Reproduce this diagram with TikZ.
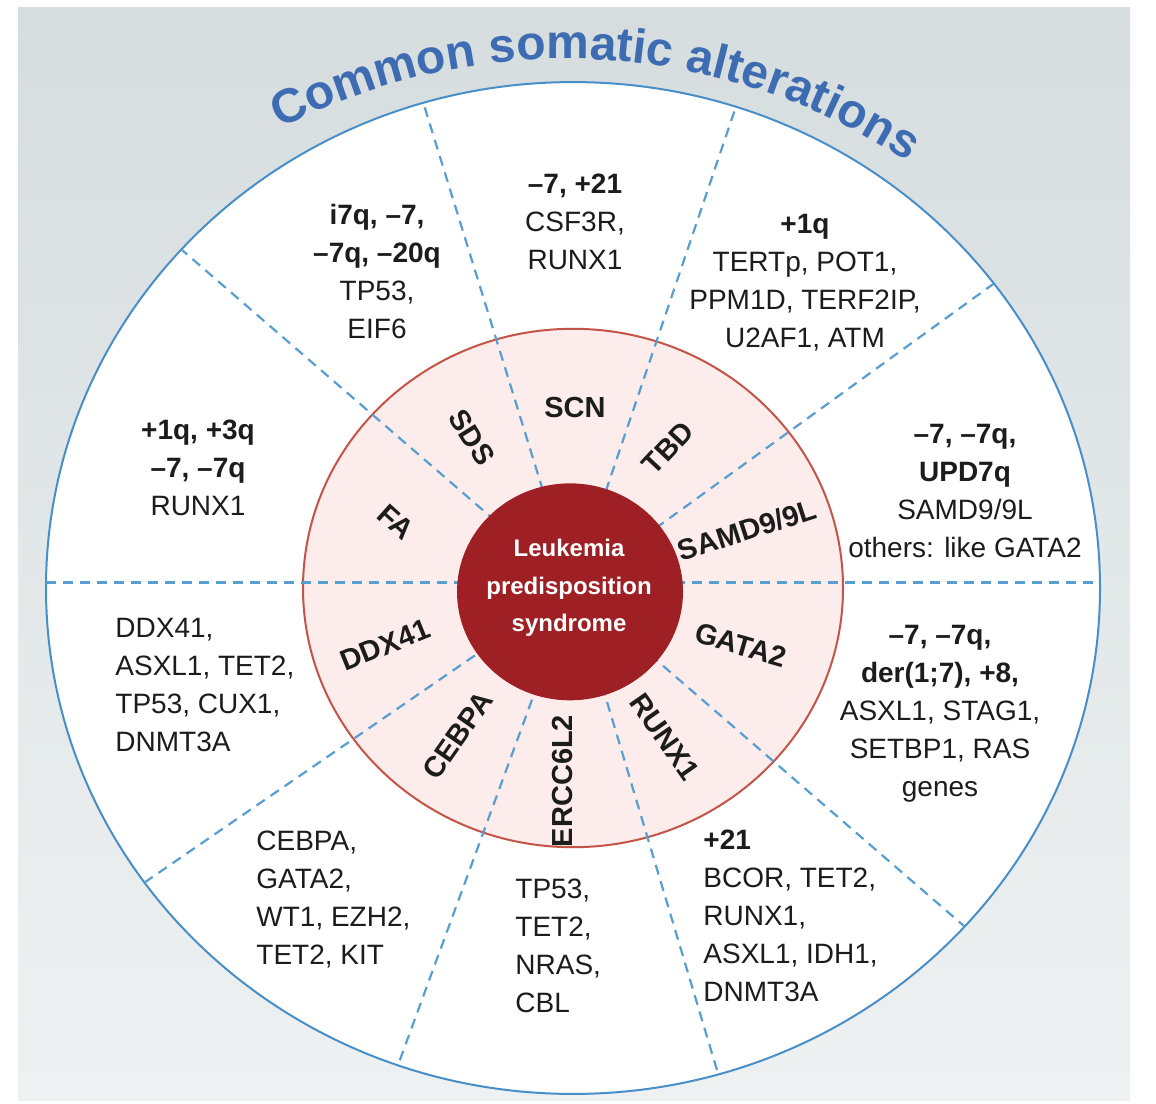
\documentclass[tikz,border=0pt]{standalone}
\usepackage{fontspec}
\setmainfont{Liberation Sans}
\usetikzlibrary{decorations.text}
\definecolor{ringblue}{RGB}{72,142,200}
\definecolor{rayblue}{RGB}{88,158,208}
\definecolor{titleblue}{RGB}{62,108,178}
\definecolor{pinkfill}{RGB}{252,236,235}
\definecolor{pinkline}{RGB}{196,84,72}
\definecolor{corered}{RGB}{158,32,36}
\definecolor{bgtop}{RGB}{214,221,223}
\definecolor{bgbot}{RGB}{238,241,242}
\definecolor{inktext}{RGB}{28,28,28}
\newcommand{\titlefont}{\fontsize{24}{24}\selectfont\bfseries\color{titleblue}}

\begin{document}
\begin{tikzpicture}[
  x=0.5pt, y=0.5pt,
  gene/.style={font=\fontsize{14}{19}\selectfont, text=inktext, align=center, inner sep=0pt},
  genel/.style={gene, align=left, anchor=west},
  syn/.style={font=\fontsize{14.5}{17}\selectfont\bfseries, text=inktext, inner sep=0pt},
  core/.style={font=\fontsize{12}{18.75}\selectfont\bfseries, text=white, align=center, inner sep=0pt},
  ray/.style={rayblue, line width=1.1pt, dash pattern=on 5pt off 3.5pt},
  mainray/.style={ray, line width=1.6pt}
]
  \useasboundingbox (0,0) rectangle (1156,-1103);
  \fill[white] (0,0) rectangle (1156,-1103);
  \shade[top color=bgtop, bottom color=bgbot] (18,-7) rectangle (1130,-1100);

  % Title arc
  \path[decorate, decoration={text along path, text align=center,
        text={|\titlefont|Common somatic alterations}}]
    (566,-677) ++(120:618) arc[start angle=120, end angle=54, radius=618];

  % Rings
  \begin{scope}[shift={(573,-588)}, yscale=0.96]
    \draw[ringblue, line width=1pt, fill=white] (0,0) circle[radius=527];
    \draw[pinkline, line width=1pt, fill=pinkfill] (0,0) circle[radius=270];
    \draw[ray] (0,0) -- (37:527);
    \draw[ray] (0,0) -- (72:527);
    \draw[ray] (0,0) -- (106.5:527);
    \draw[ray] (0,0) -- (138:527);
    \draw[ray] (0,0) -- (215.6:527);
    \draw[ray] (0,0) -- (250.6:527);
    \draw[ray] (0,0) -- (286:527);
    \draw[ray] (0,0) -- (318:527);
    \draw[mainray] (180:527) ++(0,6) -- ++(1054,0);
    \fill[corered] (-3,-4) circle[radius=113];
  \end{scope}

  % Syndrome core
  \node[core] (lps) at (569,-588) {Leukemia\\predisposition\\syndrome};

  % Syndromes
  \node[syn] (scn) at (575,-408) {SCN};
  \node[syn, rotate=-58] (sds) at (472,-437) {SDS};
  \node[syn, rotate=47] (tbd) at (668,-448) {TBD};
  \node[syn, rotate=18] (samd) at (747,-530) {SAMD9/9L};
  \node[syn, rotate=-16] (gata) at (741,-645) {GATA2};
  \node[syn, rotate=-55] (runx) at (665,-737) {RUNX1};
  \node[syn, rotate=90] (ercc) at (563,-781) {ERCC6L2};
  \node[syn, rotate=55] (cebpa) at (458,-735) {CEBPA};
  \node[syn, rotate=22] (ddx) at (385,-645) {DDX41};
  \node[syn, rotate=-42] (fa) at (396,-522) {FA};

  % Somatic alterations
  \node[gene] (scnalt) at (575,-222) {\textbf{–7, +21}\\CSF3R,\\RUNX1};
  \node[gene] (sdsalt) at (377,-271) {\textbf{i7q, –7,}\\\textbf{–7q, –20q}\\TP53,\\EIF6};
  \node[gene] (tbdalt) at (805,-283) {\textbf{+1q}\\TERTp, POT1,\\PPM1D, TERF2IP,\\U2AF1, ATM};
  \node[gene] (samdalt) at (965,-491) {\textbf{–7, –7q,}\\\textbf{UPD7q}\\SAMD9/9L\\others: like GATA2};
  \node[gene] (faalt) at (198,-468) {\textbf{+1q, +3q}\\\textbf{–7, –7q}\\RUNX1};
  \node[genel] (ddxalt) at (115,-685) {DDX41,\\ASXL1, TET2,\\TP53, CUX1,\\DNMT3A};
  \node[gene] (gataalt) at (940,-714) {\textbf{–7, –7q,}\\\textbf{der(1;7), +8,}\\ASXL1, STAG1,\\SETBP1, RAS\\genes};
  \node[genel] (cebpaalt) at (256,-900) {CEBPA,\\GATA2,\\WT1, EZH2,\\TET2, KIT};
  \node[genel] (erccalt) at (515,-946) {TP53,\\TET2,\\NRAS,\\CBL};
  \node[genel] (runxalt) at (703,-916) {\textbf{+21}\\BCOR, TET2,\\RUNX1,\\ASXL1, IDH1,\\DNMT3A};
\end{tikzpicture}
\end{document}
